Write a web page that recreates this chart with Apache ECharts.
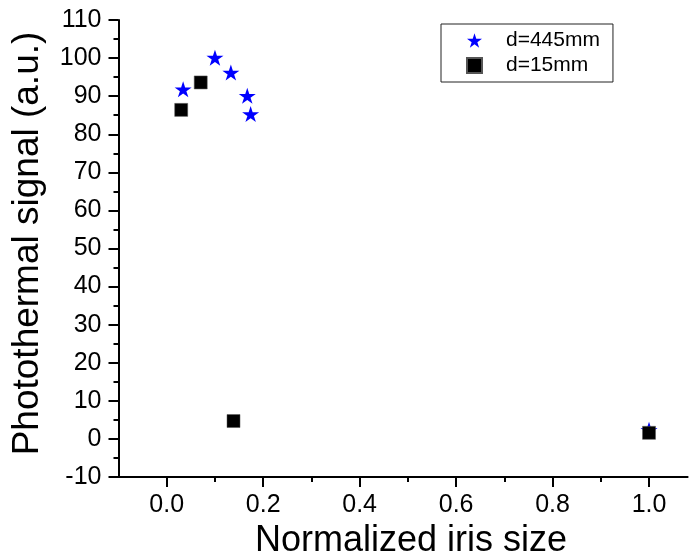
<!DOCTYPE html>
<html>
<head>
<meta charset="utf-8">
<script src="https://cdn.jsdelivr.net/npm/echarts@6/dist/echarts.min.js"></script>
<style>
html,body{margin:0;padding:0;background:#fff;}
#chart{width:689px;height:558px;}
</style>
</head>
<body>
<div id="chart"></div>
<script>
// Data
const seriesNames = ['d=445mm', 'd=15mm'];
const starX = [0.034, 0.100, 0.133, 0.167, 0.174, 1.0];
const starY = [91.8, 100.1, 96.2, 90.1, 85.3, 2.4];
const squareX = [0.030, 0.0705, 0.1385, 1.0];
const squareY = [86.4, 93.6, 4.7, 1.6];
const xMajorTicks = [0.0, 0.2, 0.4, 0.6, 0.8, 1.0];
const xMinorTicks = [0.1, 0.3, 0.5, 0.7, 0.9];
const xTitle = 'Normalized iris size';
const yTitle = 'Photothermal signal (a.u.)';

const FONT = '"Liberation Sans", Arial, sans-serif';
const STAR = 'path://M50 0 L61.23 34.55 L97.55 34.55 L68.17 55.9 L79.39 90.45 L50 69.1 L20.61 90.45 L31.83 55.9 L2.45 34.55 L38.77 34.55 Z';

const chart = echarts.init(document.getElementById('chart'), null, {renderer: 'canvas'});
const lineStyle = {color: '#000', width: 2};

chart.setOption({
  animation: false,
  backgroundColor: '#fff',
  grid: {left: 118.5, top: 20, right: 1.4, bottom: 81, containLabel: false, outerBoundsMode: 'none'},
  legend: {
    orient: 'vertical',
    left: 441, top: 24,
    padding: [6, 13, 6, 25],
    itemWidth: 15, itemHeight: 15, itemGap: 4,
    borderColor: '#222', borderWidth: 1,
    textStyle: {fontFamily: FONT, fontSize: 21, color: '#000', padding: [0, 0, 0, 19]},
    data: seriesNames
  },
  xAxis: [{
    type: 'value', min: -0.1, max: 1.08,
    splitLine: {show: false},
    axisLine: {lineStyle: lineStyle, onZero: false},
    axisTick: {show: true, inside: false, length: 10, lineStyle: lineStyle, customValues: xMajorTicks},
    axisLabel: {customValues: xMajorTicks, margin: 16, fontFamily: FONT, fontSize: 25, color: '#000',
      formatter: v => v.toFixed(1)},
    name: xTitle, nameLocation: 'middle', nameGap: 41,
    nameTextStyle: {fontFamily: FONT, fontSize: 36, color: '#000', padding: [0, 0, 0, 16]}
  }, {
    type: 'value', min: -0.1, max: 1.08, position: 'bottom',
    splitLine: {show: false},
    axisLine: {show: false, onZero: false},
    axisTick: {show: true, inside: false, length: 5, lineStyle: lineStyle, customValues: xMinorTicks},
    axisLabel: {show: false}
  }],
  yAxis: {
    type: 'value', min: -10, max: 110, interval: 10,
    splitLine: {show: false},
    axisLine: {lineStyle: lineStyle, onZero: false},
    axisTick: {show: true, inside: false, length: 10, lineStyle: lineStyle},
    minorTick: {show: true, splitNumber: 2, length: 5, lineStyle: lineStyle},
    axisLabel: {margin: 17, fontFamily: FONT, fontSize: 25, color: '#000'},
    name: yTitle, nameLocation: 'middle', nameGap: 72,
    nameTextStyle: {fontFamily: FONT, fontSize: 37, color: '#000', padding: [0, 0, 0, 10]}
  },
  series: [{
    name: seriesNames[0], type: 'scatter',
    symbol: STAR, symbolSize: [17, 16],
    itemStyle: {color: '#0000ff', opacity: 1},
    data: starX.map((x, i) => [x, starY[i]]),
    z: 2
  }, {
    name: seriesNames[1], type: 'scatter',
    symbol: 'rect', symbolSize: 13,
    itemStyle: {color: '#000', borderColor: '#555', borderWidth: 0.5, opacity: 1},
    data: squareX.map((x, i) => [x, squareY[i]]),
    z: 3
  }]
});
</script>
</body>
</html>
